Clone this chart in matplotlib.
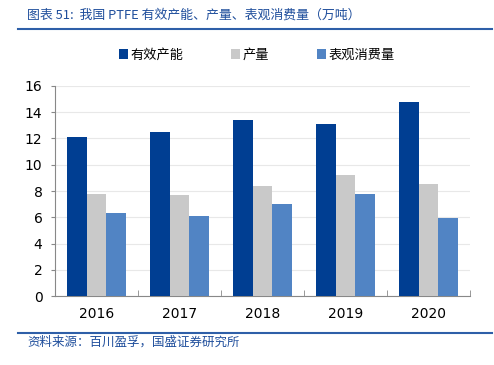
import matplotlib
matplotlib.use("Agg")
import matplotlib.pyplot as plt
import numpy as np
from matplotlib.lines import Line2D

plt.rcParams['font.family'] = ['Noto Sans CJK SC', 'DejaVu Sans']

# 数据 (万吨)
years = ["2016", "2017", "2018", "2019", "2020"]
capacity = [12.1, 12.5, 13.4, 13.1, 14.8]
output = [7.8, 7.7, 8.4, 9.2, 8.5]
consumption = [6.3, 6.1, 7.0, 7.75, 5.95]
series_names = ["有效产能", "产量", "表观消费量"]
colors = ["#003E92", "#C9C9C9", "#5184C4"]

fig = plt.figure(figsize=(4.94, 3.65), dpi=100)
ax = fig.add_axes([0.1113, 0.189, 0.84, 0.5754])

x = np.arange(len(years))
w = 0.235
for i, (vals, c, name) in enumerate(zip([capacity, output, consumption], colors, series_names)):
    ax.bar(x + (i - 1) * w, vals, width=w, color=c, label=name, zorder=3)

ax.set_xlim(-0.5, len(years) - 0.5)
ax.set_ylim(0, 16)
ax.set_yticks(range(0, 17, 2))
ax.set_xticks(x)
ax.set_xticklabels(years, fontsize=10, family='DejaVu Sans')
ax.tick_params(axis='y', labelsize=10, length=3, color='#888888', pad=6)
ax.tick_params(axis='x', length=0, pad=8)
# small tick marks between categories
ax.set_xticks(np.arange(-0.5, len(years)), minor=True)
ax.tick_params(axis='x', which='minor', direction='in', length=4, color='#888888')
for lbl in ax.get_yticklabels():
    lbl.set_family('DejaVu Sans')

ax.grid(axis='y', color='#E8E8E8', lw=0.8, zorder=0)
for s in ['top', 'right']:
    ax.spines[s].set_visible(False)
ax.spines['left'].set_color('#888888')
ax.spines['bottom'].set_color('#888888')

fig.legend(loc='center', bbox_to_anchor=(0.52, 0.849), ncol=3, frameon=False,
           fontsize=9.5, handlelength=0.7, handleheight=0.7, handletextpad=0.2,
           columnspacing=3.6)

# 标题与来源
fig.text(0.055, 0.958, "图表 51:  我国 PTFE 有效产能、产量、表观消费量（万吨）",
         fontsize=9.3, color='#1F4E9C', style='italic', va='center')
fig.add_artist(Line2D([0.036, 0.995], [0.92, 0.92], color='#2E5FA8', lw=1.5))
fig.add_artist(Line2D([0.036, 0.995], [0.088, 0.088], color='#2E5FA8', lw=1.5))
fig.text(0.055, 0.063, "资料来源：百川盈孚，国盛证券研究所",
         fontsize=9, color='#1F4E9C', style='italic', va='center')

fig.savefig("out.png", dpi=100)
